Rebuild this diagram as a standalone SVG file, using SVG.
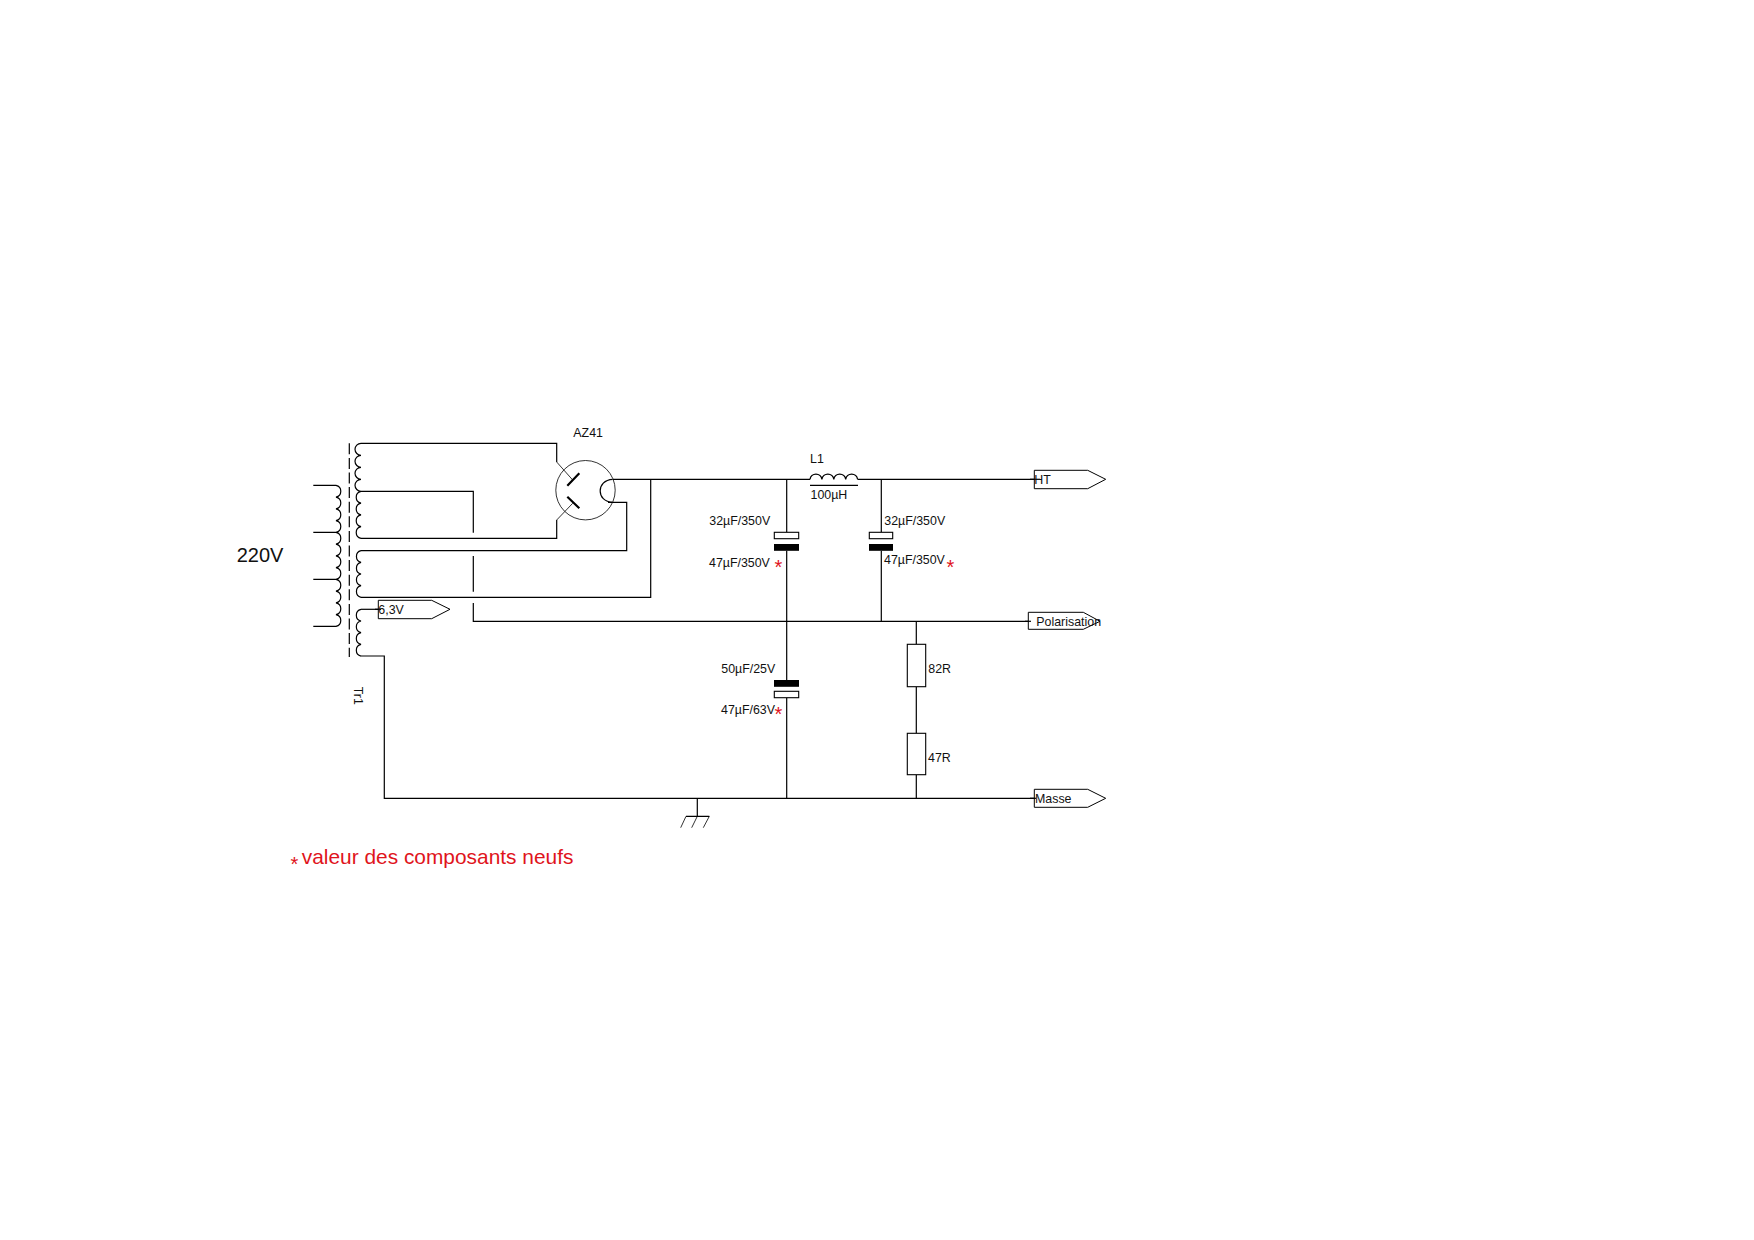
<svg xmlns="http://www.w3.org/2000/svg" width="1754" height="1240" viewBox="0 0 1754 1240">
<style>
text{font-family:"Liberation Sans",Arial,sans-serif;font-size:12.4px;fill:#111}
.w{fill:none;stroke:#000;stroke-width:1.2}
.t{fill:none;stroke:#000;stroke-width:.8}
.b{fill:#fff;stroke:#000;stroke-width:1.1}
.k{fill:#000;stroke:none}
.p{fill:#fff;stroke:#000;stroke-width:1}
.r{fill:#e0141c;font-family:"Liberation Sans",Arial,sans-serif}
</style>
<rect width="1754" height="1240" fill="#fff"/>
<g id="connectors">
<path class="w" d="M361 443.3H556.7V462M556.7 520V538.3H361"/>
<path class="w" d="M361 491.3H473.3V532.7M473.3 556V591.7M473.3 603V621.3H1031"/>
<path class="w" d="M361 550.7H626.7V502.3H608"/>
<path class="w" d="M361 597.3H650.7V479.3"/>
<path class="w" d="M613 479.3H810M857.7 479.3H1040"/>
<path class="w" d="M361 656H384.3V798.3H1036"/>
<path class="w" d="M786.7 479.3V532.3M786.7 550.7V680M786.7 697.7V798.3"/>
<path class="w" d="M881.3 479.3V532.3M881.3 550.7V621.3"/>
<path class="w" d="M916.3 621.3V644.3M916.3 686.7V733.3M916.3 774.7V798.3"/>
<path class="w" d="M361 609.3H381"/>
</g>
<g id="Tr1">
<path class="w" d="M313.3 485.3H336a6 6 0 0 1 0 11.75a6 6 0 0 1 0 11.75a6 6 0 0 1 0 11.75a6 6 0 0 1 0 11.75H313.3M336 532.3a6 6 0 0 1 0 11.75a6 6 0 0 1 0 11.75a6 6 0 0 1 0 11.75a6 6 0 0 1 0 11.75H313.3M336 579.3a6 6 0 0 1 0 11.75a6 6 0 0 1 0 11.75a6 6 0 0 1 0 11.75a6 6 0 0 1 0 11.75H313.3"/>
<path class="w" stroke-dasharray="11 3.6" d="M349.3 443.3V657"/>
<path class="w" d="M361 443.3a6 6 0 0 0 0 12a6 6 0 0 0 0 12a6 6 0 0 0 0 12a6 6 0 0 0 0 12a6 6 0 0 0 0 11.75a6 6 0 0 0 0 11.75a6 6 0 0 0 0 11.75a6 6 0 0 0 0 11.75"/>
<path class="w" d="M361 550.7a6 6 0 0 0 0 11.65a6 6 0 0 0 0 11.65a6 6 0 0 0 0 11.65a6 6 0 0 0 0 11.65"/>
<path class="w" d="M361 609.3a6 6 0 0 0 0 11.7a6 6 0 0 0 0 11.7a6 6 0 0 0 0 11.7a6 6 0 0 0 0 11.7"/>
<text transform="translate(354 686.7) rotate(90)">Tr1</text>
<text x="236.7" y="562.3" style="font-size:20px">220V</text>
</g>
<g id="AZ41">
<circle class="t" cx="585.5" cy="490.2" r="29.7"/>
<path class="t" d="M556.7 462L572.7 480M556.7 520L572.7 503.3"/>
<path d="M567.3 485.7L579.3 473.3M567.3 496.7L579.3 508.3" fill="none" stroke="#000" stroke-width="2.2"/>
<path class="w" d="M612.7 479.3C596 480 596 502 612.7 502.3"/>
<text x="573.3" y="437.3">AZ41</text>
</g>
<g id="L1">
<path class="w" d="M810 479.3a6 6 0 0 1 11.9 0a6 6 0 0 1 11.9 0a6 6 0 0 1 11.9 0a6 6 0 0 1 11.9 0"/>
<path class="w" d="M810 485.3H858"/>
<text x="810" y="463.3">L1</text>
<text x="810.5" y="499">100µH</text>
</g>
<g id="C1">
<rect class="b" x="774.3" y="532.3" width="24.4" height="6.4"/>
<rect class="k" x="774" y="544" width="25" height="6.8"/>
<text x="709.3" y="525">32µF/350V</text>
<text x="709" y="566.7">47µF/350V</text>
<text class="r" x="778.3" y="574" text-anchor="middle" style="font-size:20px;fill:#e0141c">*</text>
</g>
<g id="C2">
<rect class="b" x="869.3" y="532.3" width="23.4" height="6.4"/>
<rect class="k" x="869" y="544" width="24" height="6.8"/>
<text x="884.3" y="525">32µF/350V</text>
<text x="884" y="564">47µF/350V</text>
<text class="r" x="950.3" y="574" text-anchor="middle" style="font-size:20px;fill:#e0141c">*</text>
</g>
<g id="C3">
<rect class="k" x="774" y="680" width="25" height="6.8"/>
<rect class="b" x="774.3" y="691.3" width="24.4" height="6.4"/>
<text x="721.3" y="673">50µF/25V</text>
<text x="721" y="714">47µF/63V</text>
<text class="r" x="778.3" y="721" text-anchor="middle" style="font-size:20px;fill:#e0141c">*</text>
</g>
<g id="R82">
<rect class="b" x="907.3" y="644.3" width="18.4" height="42.4"/>
<text x="928.3" y="673">82R</text>
</g>
<g id="R47">
<rect class="b" x="907.3" y="733.3" width="18.4" height="41.4"/>
<text x="928" y="761.7">47R</text>
</g>
<g id="GND">
<path class="w" d="M697.3 798.3V816.3M686 816.3H709.3"/>
<path class="t" d="M686 816.3L680.7 827.7M697.3 816.3L691.7 827.7M709.3 816.3L703.3 827.7"/>
</g>
<g id="pin-6V3">
<path class="p" d="M378.3 600.3H431.7L450 609.3L431.7 618.7H378.3Z"/>
<path class="w" d="M375 609.3H381"/>
<text x="378.3" y="613.5">6,3V</text>
</g>
<g id="pin-HT">
<path class="p" d="M1034.3 470.3H1087.7L1105.7 479.3L1087.7 488.7H1034.3Z"/>
<path class="w" d="M1030 479.3H1040"/>
<text x="1034.3" y="484">HT</text>
</g>
<g id="pin-Polarisation">
<path class="p" d="M1028.3 612.3H1083.3L1100 621.3L1083.3 629.3H1028.3Z"/>
<path class="w" d="M1025 621.3H1031"/>
<text x="1036.3" y="626">Polarisation</text>
</g>
<g id="pin-Masse">
<path class="p" d="M1034.3 789.3H1087.7L1105.7 798.3L1087.7 807.3H1034.3Z"/>
<path class="w" d="M1030 798.3H1036"/>
<text x="1035" y="803.3">Masse</text>
</g>
<g id="legend">
<text x="294.3" y="871" text-anchor="middle" style="font-size:20px;fill:#e0141c">*</text>
<text x="301.7" y="864" style="font-size:20.9px;fill:#e0141c">valeur des composants neufs</text>
</g>
</svg>
